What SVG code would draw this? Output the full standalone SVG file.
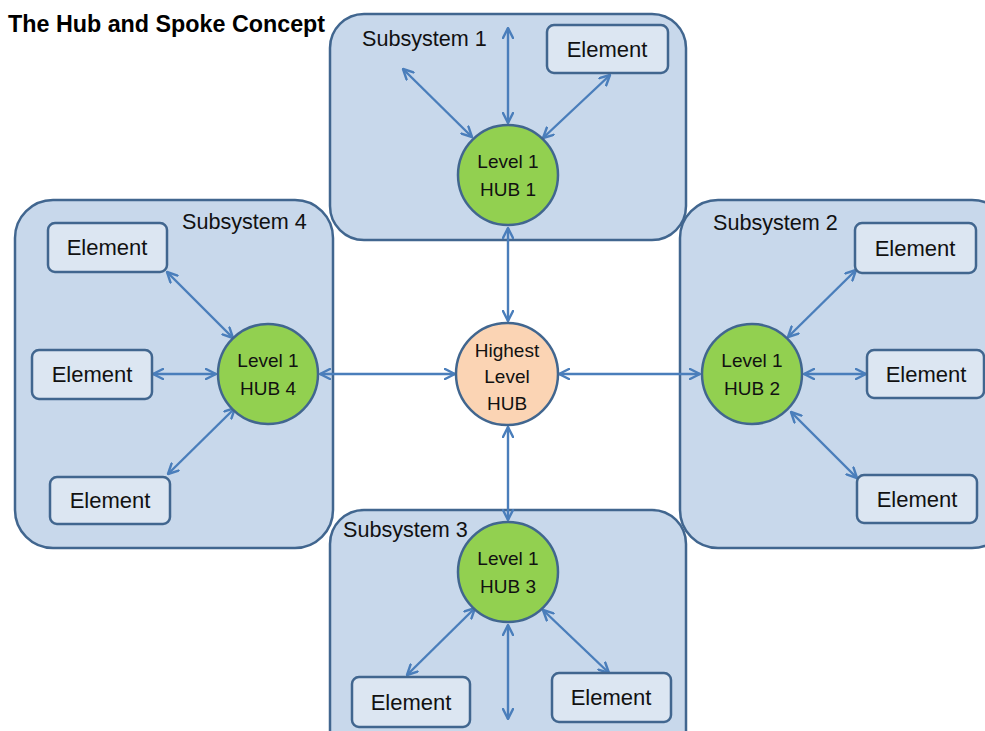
<svg xmlns="http://www.w3.org/2000/svg" width="985" height="731" viewBox="0 0 985 731">
  <defs>
    <marker id="head" viewBox="0 0 12 12" refX="11" refY="6" markerWidth="12" markerHeight="12" markerUnits="userSpaceOnUse" orient="auto-start-reverse">
      <path d="M1,1 L11,6 L1,11" fill="none" stroke="#4a7ebb" stroke-width="2.4" stroke-linecap="round" stroke-linejoin="round"/>
    </marker>
  </defs>
  <style>
    .sub { fill: #c8d8eb; stroke: #41668f; stroke-width: 2.5; }
    .elem { fill: #dce6f2; stroke: #41668f; stroke-width: 2.5; }
    .hub { fill: #92d050; stroke: #41668f; stroke-width: 2.5; }
    .top { fill: #fbd4b4; stroke: #41668f; stroke-width: 2.5; }
    .lbl { font-family: "Liberation Sans", Arial, sans-serif; font-size: 21.6px; fill: #111; }
    .et { font-family: "Liberation Sans", Arial, sans-serif; font-size: 22px; fill: #111; text-anchor: middle; }
    .ht { font-family: "Liberation Sans", Arial, sans-serif; font-size: 19px; fill: #111; text-anchor: middle; }
    .title { font-family: "Liberation Sans", Arial, sans-serif; font-size: 23.3px; font-weight: bold; fill: #000; }
    .link { stroke: #4a7ebb; stroke-width: 2.4; fill: none; marker-start: url(#head); marker-end: url(#head); }
  </style>
  <rect width="985" height="731" fill="#ffffff"/>

  <text class="title" x="8" y="32">The Hub and Spoke Concept</text>

  <!-- subsystem containers -->
  <g id="subsystem1">
    <rect class="sub" x="330" y="14" width="356" height="226" rx="34"/>
    <text class="lbl" x="362" y="46">Subsystem 1</text>
  </g>
  <g id="subsystem4">
    <rect class="sub" x="15" y="200" width="318" height="348" rx="38"/>
    <text class="lbl" x="182" y="229">Subsystem 4</text>
  </g>
  <g id="subsystem2">
    <rect class="sub" x="680" y="200" width="330" height="348" rx="38"/>
    <text class="lbl" x="713" y="230">Subsystem 2</text>
  </g>
  <g id="subsystem3">
    <rect class="sub" x="330" y="510" width="356" height="260" rx="34"/>
    <text class="lbl" x="343" y="537">Subsystem 3</text>
  </g>

  <!-- connectors -->
  <g id="connectors">
    <!-- central hub to level 1 hubs -->
    <line class="link" x1="508" y1="228" x2="508" y2="321"/>
    <line class="link" x1="320" y1="374" x2="455" y2="374"/>
    <line class="link" x1="559" y1="374" x2="700" y2="374"/>
    <line class="link" x1="508" y1="427" x2="508" y2="520"/>
    <!-- subsystem 1 -->
    <line class="link" x1="403" y1="69" x2="472" y2="137"/>
    <line class="link" x1="508" y1="28" x2="508" y2="123"/>
    <line class="link" x1="610" y1="75" x2="543" y2="138"/>
    <!-- subsystem 4 -->
    <line class="link" x1="167" y1="272" x2="233" y2="338"/>
    <line class="link" x1="153" y1="374" x2="216" y2="374"/>
    <line class="link" x1="168" y1="474" x2="235" y2="408"/>
    <!-- subsystem 2 -->
    <line class="link" x1="856" y1="270" x2="788" y2="337"/>
    <line class="link" x1="804" y1="374" x2="866" y2="374"/>
    <line class="link" x1="791" y1="412" x2="857" y2="478"/>
    <!-- subsystem 3 -->
    <line class="link" x1="475" y1="608" x2="407" y2="675"/>
    <line class="link" x1="508" y1="625" x2="508" y2="719"/>
    <line class="link" x1="543" y1="610" x2="609" y2="673"/>
  </g>

  <!-- hubs -->
  <g id="highest-hub">
    <circle class="top" cx="507" cy="374" r="51"/>
    <text class="ht" x="507" y="357">Highest</text>
    <text class="ht" x="507" y="383">Level</text>
    <text class="ht" x="507" y="410">HUB</text>
  </g>
  <g id="hub1">
    <circle class="hub" cx="508" cy="175" r="50"/>
    <text class="ht" x="508" y="168">Level 1</text>
    <text class="ht" x="508" y="196">HUB 1</text>
  </g>
  <g id="hub2">
    <circle class="hub" cx="752" cy="374" r="50"/>
    <text class="ht" x="752" y="367">Level 1</text>
    <text class="ht" x="752" y="395">HUB 2</text>
  </g>
  <g id="hub3">
    <circle class="hub" cx="508" cy="572" r="50"/>
    <text class="ht" x="508" y="565">Level 1</text>
    <text class="ht" x="508" y="593">HUB 3</text>
  </g>
  <g id="hub4">
    <circle class="hub" cx="268" cy="374" r="50"/>
    <text class="ht" x="268" y="367">Level 1</text>
    <text class="ht" x="268" y="395">HUB 4</text>
  </g>

  <!-- elements -->
  <g id="element-s1">
    <rect class="elem" x="547" y="25" width="121" height="48" rx="7"/>
    <text class="et" x="607" y="57">Element</text>
  </g>
  <g id="element-s4-top">
    <rect class="elem" x="48" y="223" width="119" height="49" rx="7"/>
    <text class="et" x="107" y="255">Element</text>
  </g>
  <g id="element-s4-mid">
    <rect class="elem" x="32" y="350" width="120" height="49" rx="7"/>
    <text class="et" x="92" y="382">Element</text>
  </g>
  <g id="element-s4-bottom">
    <rect class="elem" x="50" y="477" width="120" height="47" rx="7"/>
    <text class="et" x="110" y="508">Element</text>
  </g>
  <g id="element-s2-top">
    <rect class="elem" x="855" y="223" width="121" height="50" rx="7"/>
    <text class="et" x="915" y="256">Element</text>
  </g>
  <g id="element-s2-mid">
    <rect class="elem" x="867" y="350" width="117" height="48" rx="7"/>
    <text class="et" x="926" y="382">Element</text>
  </g>
  <g id="element-s2-bottom">
    <rect class="elem" x="857" y="475" width="120" height="48" rx="7"/>
    <text class="et" x="917" y="507">Element</text>
  </g>
  <g id="element-s3-left">
    <rect class="elem" x="352" y="677" width="118" height="50" rx="7"/>
    <text class="et" x="411" y="710">Element</text>
  </g>
  <g id="element-s3-right">
    <rect class="elem" x="552" y="673" width="119" height="49" rx="7"/>
    <text class="et" x="611" y="705">Element</text>
  </g>
</svg>
